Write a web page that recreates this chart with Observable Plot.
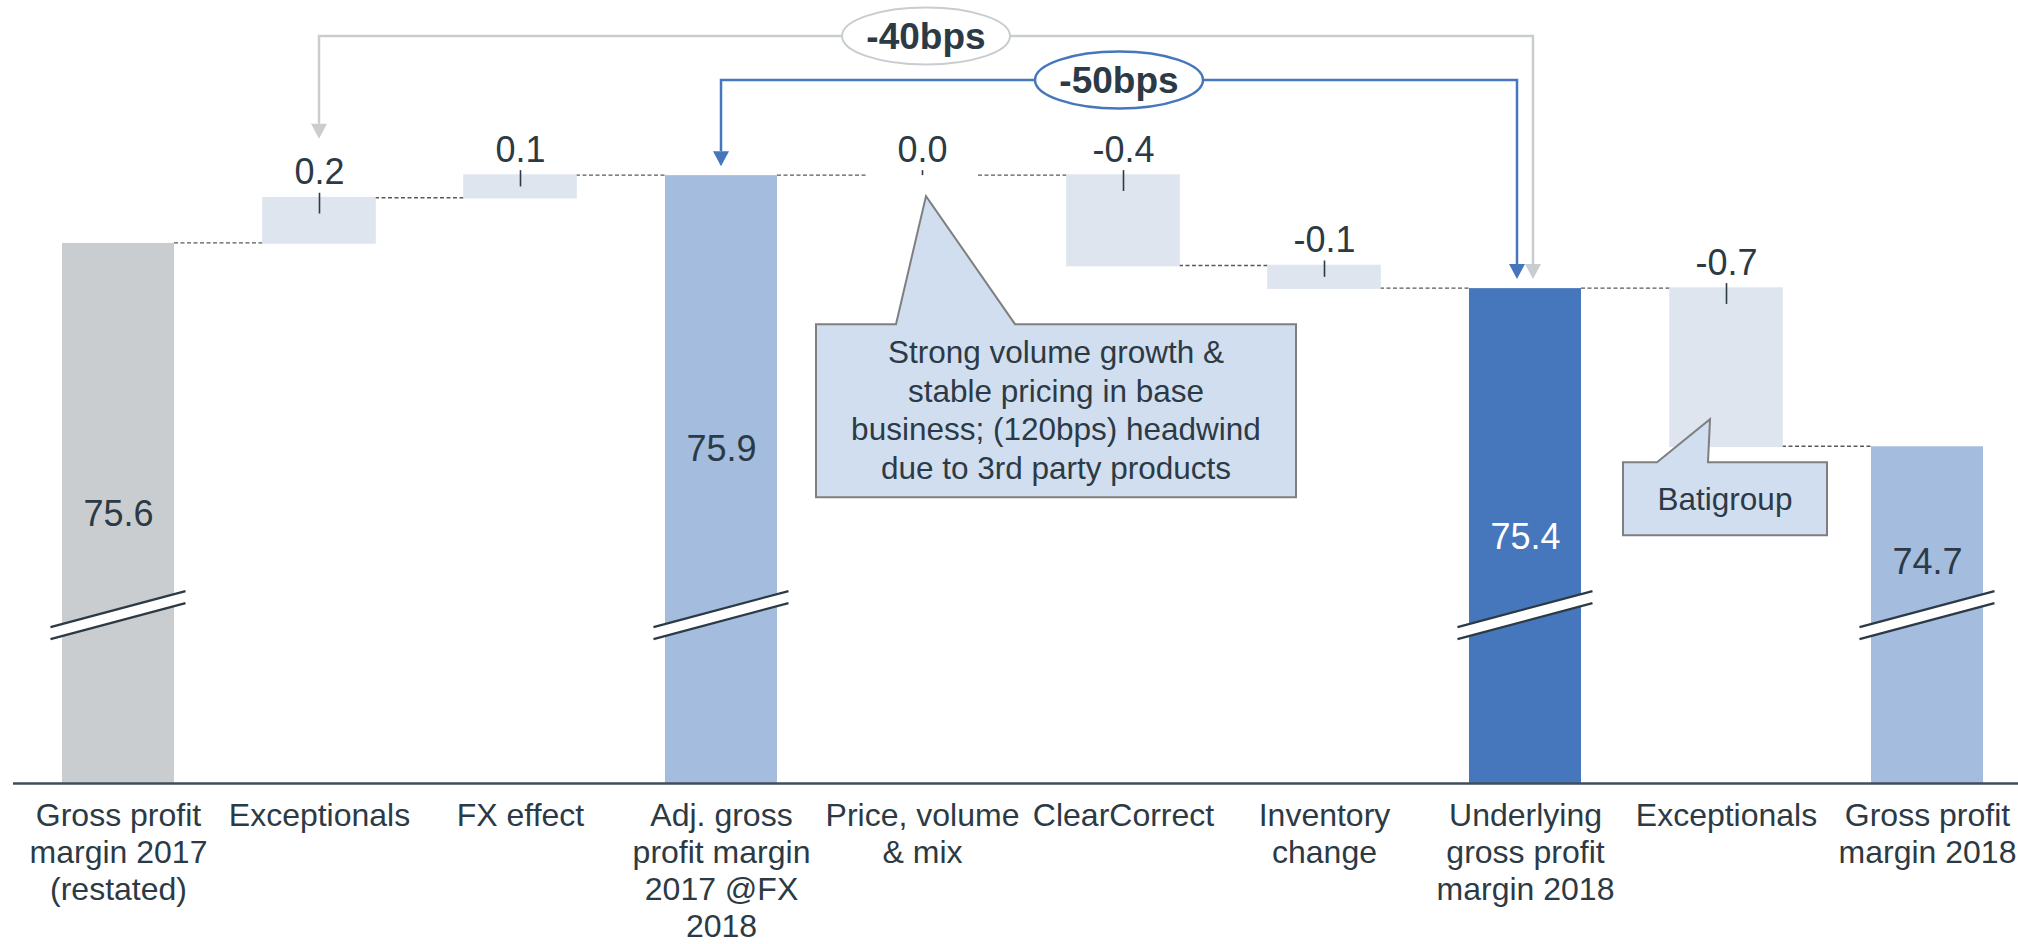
<!DOCTYPE html>
<html><head><meta charset="utf-8">
<script src="https://cdn.jsdelivr.net/npm/d3@7"></script>
<script src="https://cdn.jsdelivr.net/npm/@observablehq/plot@0.6"></script>
<style>html,body{margin:0;padding:0;background:#fff;overflow:hidden} svg{display:block}</style>
</head><body><div id="chart"></div>
<script>
// ---------- data ----------
const categories = [
  "Gross profit\nmargin 2017\n(restated)",
  "Exceptionals",
  "FX effect",
  "Adj. gross\nprofit margin\n2017 @FX\n2018",
  "Price, volume\n& mix",
  "ClearCorrect",
  "Inventory\nchange",
  "Underlying\ngross profit\nmargin 2018",
  "Exceptionals",
  "Gross profit\nmargin 2018"
];
const kinds = ["total","delta","delta","total","delta","delta","delta","total","delta","total"];
const values = [75.6, 0.2, 0.1, 75.9, 0.0, -0.4, -0.1, 75.4, -0.7, 74.7];
const valueLabels = ["75.6","0.2","0.1","75.9","0.0","-0.4","-0.1","75.4","-0.7","74.7"];
const bridgeLabels = ["-40bps", "-50bps"];
const bridgeFrom = [1, 3];
const bridgeTo = [7, 7];
const calloutTexts = [
  ["Strong volume growth &", "stable pricing in base", "business; (120bps) headwind", "due to 3rd party products"],
  ["Batigroup"]
];
const calloutAt = [4, 8];

// ---------- layout / style ----------
const W = 2018, H = 944;
const yBase = 73.21, yTop = 76.675;      // broken axis: bars start at yBase
const breakLevel = 73.953;
const TEXT = "#2c3a45";
const totalFill = {0: "#c9cdcf", 3: "#a4bdde", 7: "#4677bc", 9: "#a4bdde"};
const deltaFill = "#dee5ef";
const totalLabelLevel = {0: 74.40, 3: 74.69, 7: 74.30, 9: 74.19};
const totalLabelColor = {7: "#ffffff"};
const bridgeStyle = [
  {color: "#c9cdcf", level: 36, rightDx: 8, ellipseStroke: "#c9cdcf", sw: 2},
  {color: "#4677bc", level: 80, rightDx: -8, ellipseStroke: "#4677bc", sw: 2.5}
];

// ---------- derived rows ----------
let level = 0;
const rows = categories.map((label, i) => {
  let y1, y2;
  if (kinds[i] === "total") { y1 = yBase; y2 = values[i]; level = values[i]; }
  else { y1 = level; y2 = +(level + values[i]).toFixed(4); level = y2; }
  const top = Math.max(y1, y2), bottom = Math.min(y1, y2);
  return {i, label, kind: kinds[i], value: values[i], text: valueLabels[i], y1, y2, top, bottom, end: level,
    fill: kinds[i] === "total" ? totalFill[i] : deltaFill};
});
const deltas = rows.filter(d => d.kind === "delta");
const totals = rows.filter(d => d.kind === "total");

// ---------- custom render helpers (use Plot's scales) ----------
function connectors(index, {x, y}) {
  const bw = x.bandwidth();
  const g = d3.create("svg:g").attr("stroke", "#595959").attr("stroke-width", 1.4)
    .attr("stroke-dasharray", "4,2.5").attr("fill", "none");
  for (let k = 0; k < rows.length - 1; k++) {
    const yy = y(rows[k].end);
    g.append("line").attr("x1", x(k) + bw).attr("x2", x(k + 1)).attr("y1", yy).attr("y2", yy);
  }
  return g.node();
}

function breaks(index, {x, y}) {
  const bw = x.bandwidth();
  const g = d3.create("svg:g");
  const y0 = y(breakLevel);
  for (const d of totals) {
    const cx = x(d.i) + bw / 2;
    const half = bw / 2 + 11.5, rise = 18;
    const xl = cx - half, xr = cx + half;
    const u1 = y0 - 6 + rise * half / 67.5, u2 = y0 - 6 - rise * half / 67.5;
    g.append("polygon").attr("fill", "#fff")
      .attr("points", `${xl},${u1} ${xr},${u2} ${xr},${u2 + 12} ${xl},${u1 + 12}`);
    g.append("line").attr("x1", xl).attr("y1", u1).attr("x2", xr).attr("y2", u2)
      .attr("stroke", TEXT).attr("stroke-width", 2.2);
    g.append("line").attr("x1", xl).attr("y1", u1 + 12).attr("x2", xr).attr("y2", u2 + 12)
      .attr("stroke", TEXT).attr("stroke-width", 2.2);
  }
  return g.node();
}

function bridges(index, {x, y}) {
  const bw = x.bandwidth();
  const g = d3.create("svg:g");
  bridgeLabels.forEach((lab, k) => {
    const st = bridgeStyle[k];
    const from = rows[bridgeFrom[k]], to = rows[bridgeTo[k]];
    const lx = x(from.i) + bw / 2;
    const rx = x(to.i) + bw / 2 + st.rightDx;
    const ltip = from.kind === "delta" ? y(from.top) - 59 : y(from.top) - 9;
    const rtip = y(to.top) - 9;
    const ah = 15, aw = 8;
    g.append("path").attr("fill", "none").attr("stroke", st.color).attr("stroke-width", 2.5)
      .attr("d", `M${lx},${ltip - ah}V${st.level}H${rx}V${rtip - ah}`);
    g.append("path").attr("fill", st.color)
      .attr("d", `M${lx - aw},${ltip - ah}L${lx + aw},${ltip - ah}L${lx},${ltip}Z`);
    g.append("path").attr("fill", st.color)
      .attr("d", `M${rx - aw},${rtip - ah}L${rx + aw},${rtip - ah}L${rx},${rtip}Z`);
    const mx = (lx + rx) / 2;
    g.append("ellipse").attr("cx", mx).attr("cy", st.level).attr("rx", 84).attr("ry", 28.5)
      .attr("fill", "#fff").attr("stroke", st.ellipseStroke).attr("stroke-width", st.sw);
    g.append("text").attr("x", mx).attr("y", st.level + 12.5).attr("text-anchor", "middle")
      .attr("font-weight", "bold").attr("font-size", 37).attr("fill", TEXT).text(lab);
  });
  return g.node();
}

function callouts(index, {x, y}) {
  const bw = x.bandwidth();
  const g = d3.create("svg:g");
  // big callout under "Price, volume & mix"
  {
    const d = rows[calloutAt[0]];
    const cx = x(d.i) + bw / 2, t = y(d.top);
    const L = cx - 106, R = cx + 374, T = t + 149, B = t + 322;
    const p = `M${L},${T}H${cx - 26}L${cx + 4},${t + 21}L${cx + 93},${T}H${R}V${B}H${L}Z`;
    g.append("path").attr("d", p).attr("fill", "#d1deef").attr("stroke", "#7f7f7f").attr("stroke-width", 2);
    calloutTexts[0].forEach((line, j) => {
      g.append("text").attr("x", (L + R) / 2).attr("y", T + 39 + j * 38.5).attr("text-anchor", "middle")
        .attr("font-size", 31.5).attr("fill", TEXT).text(line);
    });
  }
  // small callout under second "Exceptionals"
  {
    const d = rows[calloutAt[1]];
    const cx = x(d.i) + bw / 2, b = y(d.bottom);
    const L = cx - 103, R = cx + 101, T = b + 16, B = b + 89;
    const p = `M${L},${T}H${cx - 69}L${cx - 16},${b - 27}L${cx - 18},${T}H${R}V${B}H${L}Z`;
    g.append("path").attr("d", p).attr("fill", "#d1deef").attr("stroke", "#7f7f7f").attr("stroke-width", 2);
    calloutTexts[1].forEach((line, j) => {
      g.append("text").attr("x", (L + R) / 2).attr("y", T + 48 + j * 38.5).attr("text-anchor", "middle")
        .attr("font-size", 31.5).attr("fill", TEXT).text(line);
    });
  }
  return g.node();
}

// ---------- chart ----------
const chart = Plot.plot({
  width: W, height: H,
  marginTop: 0, marginBottom: H - 783, marginLeft: 13, marginRight: 0,
  style: {fontFamily: "'Liberation Sans', Arial, Helvetica, sans-serif", background: "#fff", color: TEXT},
  x: {type: "band", domain: d3.range(categories.length), range: [13, 2031], paddingInner: 0.445, paddingOuter: 0.2225, axis: null},
  y: {domain: [yBase, yTop], axis: null},
  color: {type: "identity"},
  marks: [
    connectors,
    Plot.barY(rows, {x: "i", y1: "y1", y2: "y2", fill: "fill",
      stroke: d => d.kind === "delta" ? deltaFill : "none", strokeWidth: 1.6}),
    breaks,
    Plot.ruleX(deltas, {x: "i", y1: d => d.top + 0.022, y2: d => d.top - Math.min(0.07, Math.abs(d.value) / 2),
      stroke: TEXT, strokeWidth: 1.6}),
    Plot.text(deltas, {x: "i", y: "top", text: "text", dy: -25.5, fontSize: 36, fill: TEXT}),
    Plot.text(totals, {x: "i", y: d => totalLabelLevel[d.i], text: "text", fontSize: 36,
      fill: d => totalLabelColor[d.i] || TEXT}),
    Plot.ruleY([yBase], {stroke: "#3f4d58", strokeWidth: 2.5}),
    Plot.text(rows, {x: "i", y: () => yBase, text: "label", lineAnchor: "top", dy: 16, fontSize: 32,
      lineHeight: 1.16, fill: TEXT}),
    bridges,
    callouts
  ]
});
document.getElementById("chart").appendChild(chart);
</script>
</body></html>
